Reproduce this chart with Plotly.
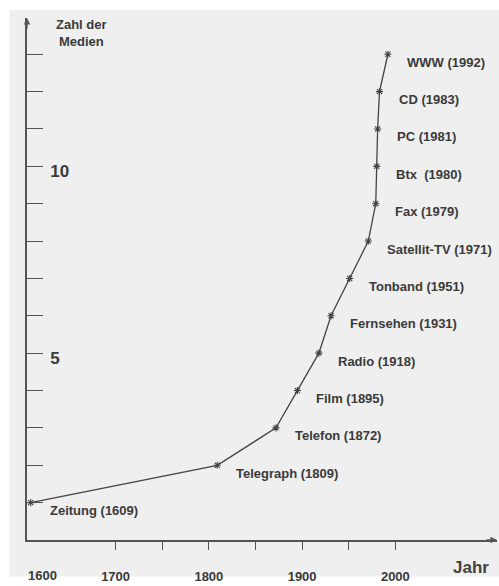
import plotly.graph_objects as go

media = ["Zeitung", "Telegraph", "Telefon", "Film", "Radio", "Fernsehen", "Tonband",
         "Satellit-TV", "Fax", "Btx", "PC", "CD", "WWW"]
years = [1609, 1809, 1872, 1895, 1918, 1931, 1951, 1971, 1979, 1980, 1981, 1983, 1992]
counts = [1, 2, 3, 4, 5, 6, 7, 8, 9, 10, 11, 12, 13]

x_tickvals = [1650, 1700, 1750, 1800, 1850, 1900, 1950, 2000]
x_ticktext = ["", "1700", "", "1800", "", "1900", "", "2000"]
y_tickvals = [1, 2, 3, 4, 5, 6, 7, 8, 9, 10, 11, 12, 13]
y_ticktext = ["", "", "", "", "5", "", "", "", "", "10", "", "", ""]

FONT = "Liberation Sans, Arial, Helvetica, sans-serif"
INK = "#3a3a3a"
AX = "#555555"

fig = go.Figure()
fig.add_trace(go.Scatter(
    x=years, y=counts, mode="lines+markers",
    line=dict(color="#444444", width=1.3),
    marker=dict(symbol="asterisk-open", size=6, line=dict(color="#333333", width=1.1)),
    hoverinfo="skip", showlegend=False,
))

annotations = []
for m, yr, c in zip(media, years, counts):
    name = m + "\u00a0" if m == "Btx" else m
    annotations.append(dict(
        x=yr, y=c, xref="x", yref="y", text=f"{name} ({yr})",
        showarrow=False, xanchor="left", yanchor="middle",
        xshift=17, yshift=-8, font=dict(family=FONT, size=13, color=INK, weight="bold"),
    ))

# y-axis title
annotations.append(dict(xref="paper", x=0.117, yref="paper", y=0.972, xanchor="center",
                        yanchor="middle", align="center", showarrow=False,
                        text="Zahl der<br>Medien",
                        font=dict(family=FONT, size=13, color=INK, weight="bold")))
# extra 1600 label (no tick)
annotations.append(dict(x=1622, y=0, xref="x", yref="paper", yshift=-35,
                        text="1600", showarrow=False, yanchor="middle",
                        font=dict(family=FONT, size=13, color=INK, weight="bold")))
# x-axis title
annotations.append(dict(x=2081, y=0, xref="x", yref="paper", yshift=-27,
                        text="Jahr", showarrow=False, yanchor="middle",
                        font=dict(family=FONT, size=17, color="#444444", weight="bold")))
# axis arrows
annotations.append(dict(x=0, y=1, xref="paper", yref="paper", ax=0, ay=12,
                        showarrow=True, arrowhead=2, arrowsize=1, arrowwidth=1.3,
                        arrowcolor=AX, text=""))
annotations.append(dict(x=1, y=0, xref="paper", yref="paper", ax=-12, ay=0,
                        showarrow=True, arrowhead=2, arrowsize=1, arrowwidth=1.3,
                        arrowcolor=AX, text=""))

fig.update_layout(
    width=499, height=586,
    margin=dict(l=27, r=2, t=18, b=33),
    paper_bgcolor="#ffffff",
    plot_bgcolor="rgba(0,0,0,0)",
    font=dict(family=FONT, size=13, color=INK),
    annotations=annotations,
    shapes=[dict(type="rect", xref="paper", yref="paper", layer="below",
                 x0=-0.0375, x1=1.01, y0=-0.07, y1=1.0155,
                 fillcolor="#efefef", line=dict(width=0))],
)
fig.update_xaxes(
    range=[1605, 2109], showgrid=False, zeroline=False,
    showline=True, linecolor=AX, linewidth=1.5,
    tickmode="array", tickvals=x_tickvals, ticktext=x_ticktext,
    ticks="outside", ticklen=8, tickwidth=1.2, tickcolor=AX,
    tickfont=dict(family=FONT, size=13, color=INK, weight="bold"),
    ticklabelstandoff=16,
)
fig.update_yaxes(
    range=[0, 13.97], showgrid=False, zeroline=False,
    showline=True, linecolor=AX, linewidth=1.5,
    tickmode="array", tickvals=y_tickvals, ticktext=y_ticktext,
    ticks="inside", ticklen=16, tickwidth=1.2, tickcolor=AX,
    ticklabelposition="inside", ticklabelshift=5, ticklabelstandoff=8,
    tickfont=dict(family=FONT, size=17, color=INK, weight="bold"),
)

fig.write_html("out.html", config={"displayModeBar": False},
               post_script="document.body.style.margin='0';")
